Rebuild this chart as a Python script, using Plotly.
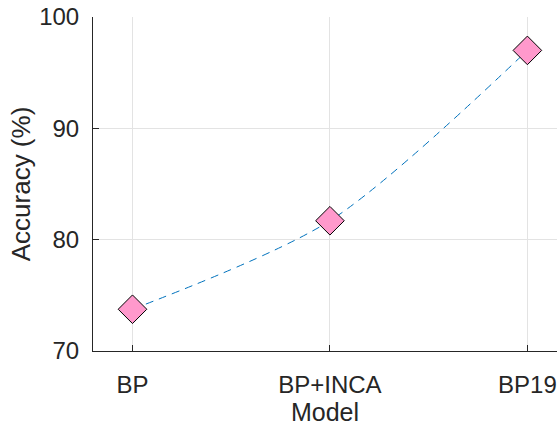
import plotly.graph_objects as go

models = ["BP", "BP+INCA", "BP19"]
accuracy = [73.75, 81.7, 97.0]
y_ticks = [70, 80, 90, 100]

fig = go.Figure()
fig.add_trace(go.Scatter(
    x=models, y=accuracy, mode="lines+markers",
    line=dict(color="#0072BD", width=1, dash="8px,6px", shape="spline",
              smoothing=0.8),
    marker=dict(symbol="diamond", size=22, color="#FF99CC",
                line=dict(color="#000000", width=1)),
    cliponaxis=False, showlegend=False,
))

font_family = "Liberation Sans, Arial, sans-serif"
fig.update_layout(
    width=557, height=426,
    margin=dict(l=93, r=0, t=17, b=75),
    plot_bgcolor="white", paper_bgcolor="white",
    font=dict(family=font_family, size=24, color="#262626"),
)
fig.update_xaxes(
    type="category", range=[-0.2, 2.15], automargin=False,
    showline=True, linecolor="#262626", linewidth=1,
    ticks="inside", ticklen=6, tickcolor="#262626",
    showgrid=True, gridcolor="#E3E3E3", gridwidth=1,
    ticklabelstandoff=12,
    title=dict(text="Model", standoff=8, font=dict(size=25)),
    zeroline=False,
)
fig.update_yaxes(
    range=[70, 100], tickvals=y_ticks, automargin=False,
    showline=True, linecolor="#262626", linewidth=1,
    ticks="inside", ticklen=6, tickcolor="#262626",
    showgrid=True, gridcolor="#E3E3E3", gridwidth=1,
    ticklabelstandoff=8,
    title=dict(text="Accuracy (%)", standoff=1, font=dict(size=26)),
    zeroline=False,
)
fig.write_html("out.html", config={"displayModeBar": False},
               post_script="document.body.style.margin='0';")
